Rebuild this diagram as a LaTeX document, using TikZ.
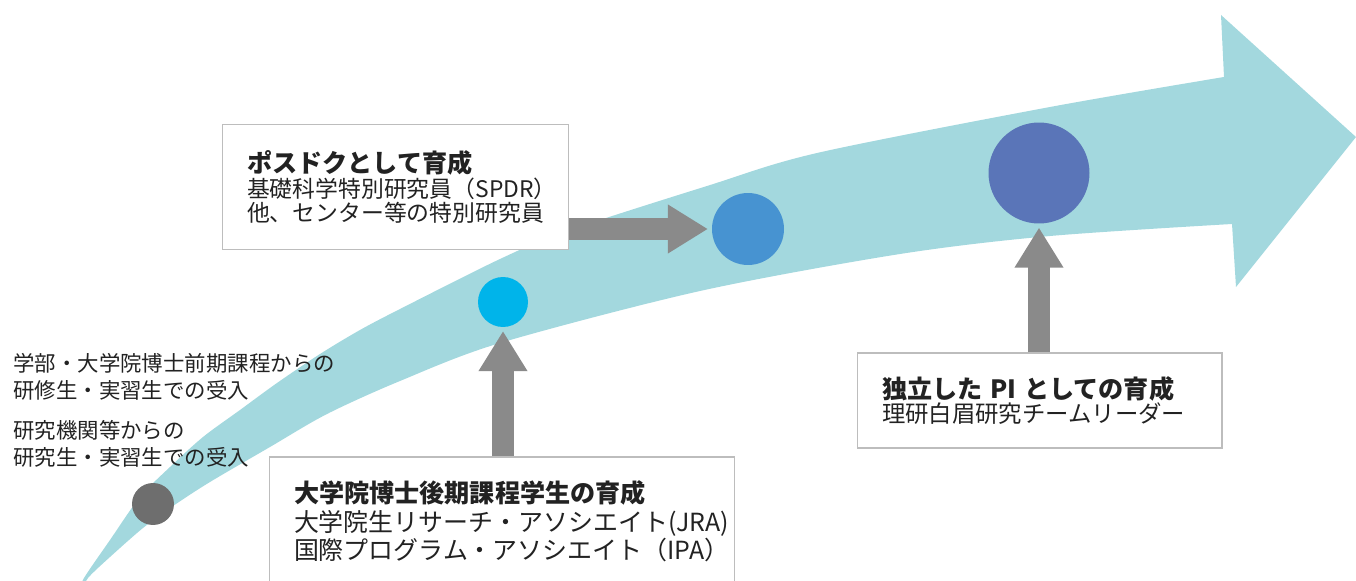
\documentclass[tikz,border=0pt]{standalone}
\usepackage{fontspec}
\setmainfont{Noto Sans CJK JP}
\usetikzlibrary{arrows.meta}
\definecolor{bandc}{HTML}{A3D8DE}
\definecolor{garrowc}{HTML}{8A8A8A}
\definecolor{dotgray}{HTML}{6E6E6E}
\definecolor{dotcyan}{HTML}{00B4EA}
\definecolor{dotmid}{HTML}{4793D1}
\definecolor{dotbig}{HTML}{5A75B8}
\definecolor{boxline}{HTML}{BDBDBD}
\definecolor{txt}{HTML}{222222}
\tikzset{
  infobox/.style={draw=boxline, line width=0.6pt, fill=white, align=left,
    inner xsep=0.5cm, inner ysep=0pt, text=txt},
  sidetext/.style={align=left, inner sep=0pt, text=txt,
    font=\fontsize{12.2}{15.4}\selectfont},
  dot/.style={circle, inner sep=0pt, outer sep=2.3pt},
  garrow/.style={draw=garrowc, line width=12.5pt,
    -{Triangle[width=26.2pt,length=22.8pt]}},
}
\newcommand{\ttl}[1]{{\fontsize{14.3}{14}\selectfont\bfseries #1}}
\begin{document}
\begin{tikzpicture}[x=0.02cm,y=-0.02cm]
\useasboundingbox (0,0) rectangle (1356,581);
% big band arrow
\fill[bandc] plot[smooth,tension=0.5] coordinates {(79,592) (84,578) (110,540) (140,497) (170,467) (203,437) (240,410) (277,383) (320,354) (360,330) (400,309) (500,259) (567,231) (707,186) (817,153) (1050,107) (1224,77)}
  -- (1221,15) -- (1356,137) -- (1236,287) -- (1232,224)
  -- plot[smooth,tension=0.5] coordinates {(1232,224) (1050,236) (900,254) (700,291) (500,343) (400,381) (327,414) (270,447) (210,482) (173,506) (143,528) (110,557) (88,578) (81,592)} -- cycle;

% side texts
\node[sidetext, anchor=west] (s1) at (13,376.5) {学部・大学院博士前期課程からの\\研修生・実習生での受入};
\node[sidetext, anchor=west] (s2) at (13,443.5) {研究機関等からの\\研究生・実習生での受入};

% boxes
\node[infobox, text width=5.94cm, minimum height=2.5cm,
  font=\fontsize{13}{13.9}\selectfont] (b2) at (395.5,187)
  {\ttl{ポスドクとして育成}\\基礎科学特別研究員（SPDR）\\他、センター等の特別研究員};
\node[infobox, text width=8.32cm, minimum height=2.58cm,
  font=\fontsize{14.2}{16.2}\selectfont] (b3) at (502,521.5)
  {\ttl{大学院博士後期課程学生の育成}\\大学院生リサーチ・アソシエイト(JRA)\\国際プログラム・アソシエイト（IPA）};
\node[infobox, text width=6.3cm, minimum height=1.9cm,
  font=\fontsize{13.3}{14.2}\selectfont] (b4) at (1039.5,400.5)
  {\ttl{独立した~PI~としての育成}\\理研白眉研究チームリーダー};

% dots
\node[dot, fill=dotgray, minimum size=0.84cm] (c0) at (153,504) {};
\node[dot, fill=dotcyan, minimum size=1cm] (c1) at (503,302) {};
\node[dot, fill=dotmid, minimum size=1.44cm] (c2) at (748,229) {};
\node[dot, fill=dotbig, minimum size=2.02cm] (c3) at (1039,173) {};

% gray arrows
\draw[garrow] (b2.east |- c2.west) -- (c2.west);
\draw[garrow] (c1.south |- b3.north) -- (c1.south);
\draw[garrow] (c3.south |- b4.north) -- (c3.south);
\end{tikzpicture}
\end{document}
